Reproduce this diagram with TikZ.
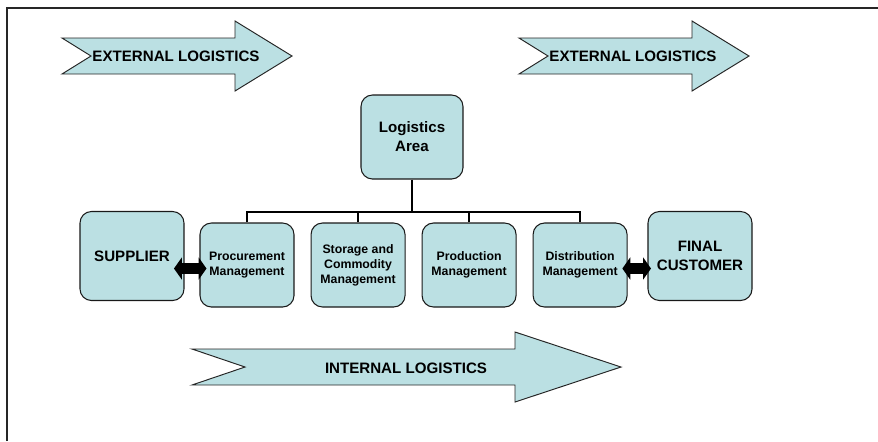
\documentclass[tikz,border=0pt]{standalone}
\usepackage{fontspec}
\setmainfont{Liberation Sans}
\usetikzlibrary{arrows.meta, positioning}

\definecolor{logfill}{RGB}{187,224,227}

\begin{document}
\begin{tikzpicture}[x=0.02cm, y=-0.02cm,
    unit/.style={draw=black!90, line width=0.6pt, fill=logfill, rounded corners=6.5pt, align=center,
                 minimum width=1.88cm, minimum height=1.68cm, inner sep=1pt,
                 font=\fontsize{7}{8.5}\selectfont\bfseries},
    party/.style={unit, minimum width=2.08cm, minimum height=1.78cm,
                  font=\fontsize{8.6}{10.8}\selectfont\bfseries},
    flow/.style={draw=black!85, fill=logfill, line width=0.55pt},
    flowtext/.style={font=\fontsize{8.6}{10}\selectfont\bfseries},
    tree/.style={line width=1pt},
    duplex/.style={line width=6.5pt,
                   {Triangle[length=4.5pt,width=12.5pt]}-{Triangle[length=4.5pt,width=12.5pt]}}]
  \useasboundingbox (0,0) rectangle (878,441);
  \draw[line width=1.1pt, black!85] (7,441) -- (7,8) -- (878,8);

  % external and internal flows
  \foreach \dx/\name in {0/extin, 457/extout}{
    \draw[flow, shift={(\dx,0)}] (62,38) -- (91,56) -- (62,74) -- (235,74) -- (235,91)
          -- (292,56) -- (235,21) -- (235,38) -- cycle;
  }
  \node[flowtext] (extin) at (176,56) {EXTERNAL LOGISTICS};
  \node[flowtext] (extout) at (633,56) {EXTERNAL LOGISTICS};
  \draw[flow] (192,349) -- (245,367) -- (192,385) -- (515,385) -- (515,402)
        -- (621,367) -- (515,332) -- (515,349) -- cycle;
  \node[flowtext] (intern) at (406,368) {INTERNAL LOGISTICS};

  % logistics area and its four parts
  \node[party, minimum width=2.04cm, minimum height=1.68cm] (area) at (412,137) {Logistics\\Area};
  \node[unit] (proc) at (247,265) {Procurement\\Management};
  \node[unit, right=0.32cm of proc] (store) {Storage and\\Commodity\\Management};
  \node[unit, right=0.32cm of store] (prod) {Production\\Management};
  \node[unit, right=0.32cm of prod] (dist) {Distribution\\Management};
  \node[party] (supplier) at (132,256) {SUPPLIER};
  \node[party] (customer) at (700,256) {FINAL\\CUSTOMER};

  \coordinate (bus) at (412,212);
  \draw[tree] (area.south) -- (bus);
  \foreach \n in {proc,store,prod,dist}
    \draw[tree] (\n.north) |- (bus);

  \draw[duplex, shorten <=-6pt, shorten >=-4pt]
        ([yshift=-2pt]proc.west -| supplier.east) -- ([yshift=-2pt]proc.west);
  \draw[duplex, shorten <=-3pt, shorten >=-2pt]
        ([yshift=-2pt]dist.east) -- ([yshift=-2pt]dist.east -| customer.west);
\end{tikzpicture}
\end{document}
